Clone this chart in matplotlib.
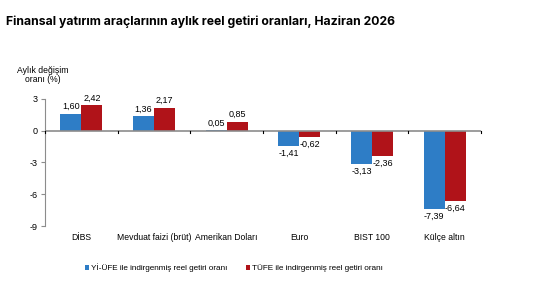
import numpy as np
from matplotlib import pyplot as plt

# veriler
categories = ["DİBS", "Mevduat faizi (brüt)", "Amerikan Doları", "Euro", "BIST 100", "Külçe altın"]
yiufe = [1.60, 1.36, 0.05, -1.41, -3.13, -7.39]
tufe = [2.42, 2.17, 0.85, -0.62, -2.36, -6.64]
series_names = ["Yİ-ÜFE ile indirgenmiş reel getiri oranı", "TÜFE ile indirgenmiş reel getiri oranı"]
yticks = [3, 0, -3, -6, -9]

blue = "#2E7DC6"
red = "#B01319"

plt.rcParams['font.family'] = ['Liberation Sans', 'DejaVu Sans']

fig = plt.figure(figsize=(5.53, 2.92), dpi=100)
ax = fig.add_axes([45/553, 1-226/292, 436/553, 127/292])

x = np.arange(len(categories))
w = 0.29
b1 = ax.bar(x - w/2, yiufe, w, color=blue, label=series_names[0])
b2 = ax.bar(x + w/2, tufe, w, color=red, label=series_names[1])

def fmt(v):
    return f"{v:.2f}".replace(".", ",")

for bars, vals in ((b1, yiufe), (b2, tufe)):
    for r, v in zip(bars, vals):
        cx = r.get_x() + r.get_width()/2
        if v >= 0:
            ax.annotate(fmt(v), (cx, v), xytext=(0, 2), textcoords="offset points",
                        ha="center", va="bottom", fontsize=6.5)
        else:
            ax.annotate(fmt(v), (cx, v), xytext=(0, -2), textcoords="offset points",
                        ha="center", va="top", fontsize=6.5)

ax.set_xlim(-0.5, len(categories) - 0.5)
ax.set_ylim(-9, 3)
ax.set_yticks(yticks)
ax.set_yticklabels([str(t) for t in yticks], fontsize=6.5)
ax.axhline(0, color="#8c8c8c", lw=1.2, zorder=3)

# kategori isimleri alt kisimda
ax.set_xticks(x)
ax.set_xticklabels(categories, fontsize=6.2)
ax.tick_params(axis="x", length=0, pad=5)
for b in np.arange(len(categories) + 1) - 0.5:
    ax.plot([b, b], [0, -0.25], color="black", lw=0.8, zorder=4, clip_on=False)

for s in ["top", "right", "bottom"]:
    ax.spines[s].set_visible(False)
ax.spines["left"].set_color("#8c8c8c")
ax.tick_params(axis="y", length=3, color="#8c8c8c", pad=2)

fig.text(43/553, 1-75/292, "Aylık değişim\noranı (%)", ha="center", va="center",
         fontsize=6.2, linespacing=1.0)
fig.text(6/553, 1-22/292, "Finansal yatırım araçlarının aylık reel getiri oranları, Haziran 2026",
         fontsize=8.8, fontweight="bold", family=["Inter", "DejaVu Sans"], va="center")

fig.legend(handles=[b1, b2], loc="center", bbox_to_anchor=(234/553, 1-268/292), ncol=2,
           frameon=False, fontsize=5.9, handlelength=0.5, handleheight=0.6,
           handletextpad=0.3, columnspacing=2.2)

fig.savefig("out.png", dpi=100)
